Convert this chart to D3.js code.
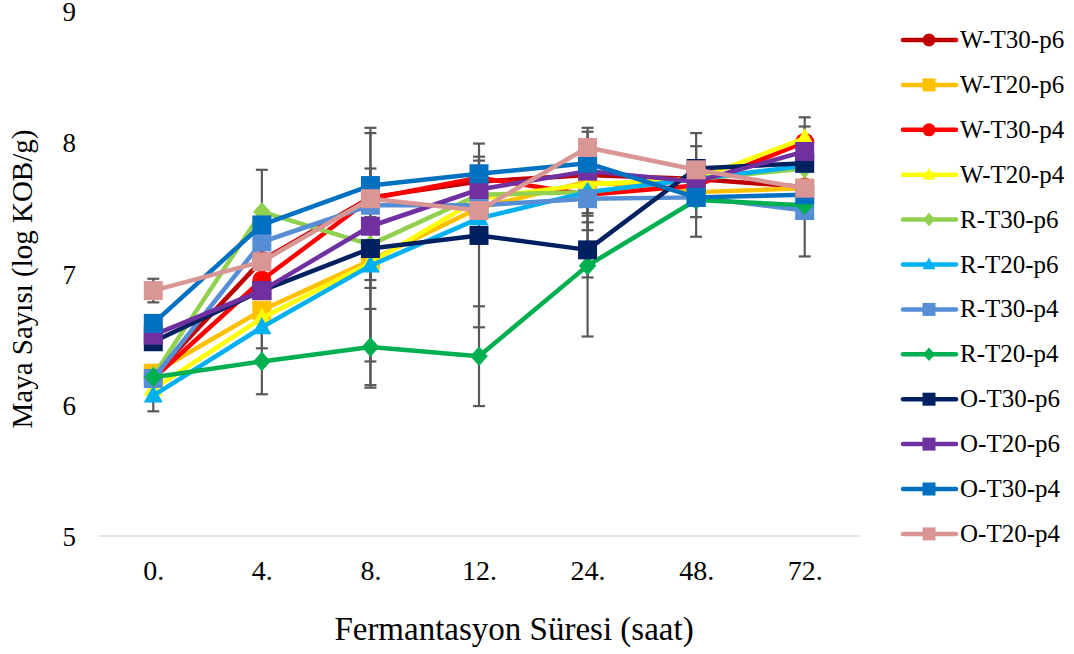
<!DOCTYPE html>
<html>
<head>
<meta charset="utf-8">
<script src="https://cdn.jsdelivr.net/npm/d3@7"></script>
<style>
  html, body { margin: 0; padding: 0; background: #ffffff; }
  svg { display: block; }
  svg text { font-family: "Liberation Serif", "Times New Roman", serif; }
</style>
</head>
<body>
<svg id="chart" width="1074" height="654"></svg>
<script>
// ---- data ----
const categories = ["0.", "4.", "8.", "12.", "24.", "48.", "72."];
const yTicks = [5, 6, 7, 8, 9];
const seriesNames = ["W-T30-p6", "W-T20-p6", "W-T30-p4", "W-T20-p4", "R-T30-p6", "R-T20-p6",
                     "R-T30-p4", "R-T20-p4", "O-T30-p6", "O-T20-p6", "O-T30-p4", "O-T20-p4"];

const wT30p6 = [6.22, 7.10, 7.58, 7.70, 7.75, 7.72, 7.66];
const wT20p6 = [6.24, 6.72, 7.10, 7.50, 7.70, 7.62, 7.65];
const wT30p4 = [6.20, 6.95, 7.57, 7.73, 7.60, 7.67, 8.00];
const wT20p4 = [6.12, 6.66, 7.08, 7.57, 7.68, 7.72, 8.03];
const rT30p6 = [6.22, 7.47, 7.22, 7.60, 7.62, 7.72, 7.80];
const rT20p6 = [6.07, 6.59, 7.06, 7.42, 7.62, 7.72, 7.82];
const rT30p4 = [6.20, 7.24, 7.52, 7.52, 7.57, 7.58, 7.48];
const rT20p4 = [6.21, 6.33, 6.44, 6.37, 7.06, 7.56, 7.52];
const oT30p6 = [6.48, 6.87, 7.19, 7.29, 7.18, 7.80, 7.84];
const oT20p6 = [6.53, 6.87, 7.36, 7.64, 7.78, 7.70, 7.93];
const oT30p4 = [6.62, 7.37, 7.67, 7.76, 7.84, 7.58, 7.60];
const oT20p4 = [6.87, 7.09, 7.57, 7.48, 7.96, 7.79, 7.65];

// error bar half-widths (0 = no visible error bar)
const errWT30p6 = [0, 0, 0, 0, 0, 0, 0];
const errWT20p6 = [0, 0, 0.97, 0, 0, 0, 0];
const errWT30p4 = [0, 0, 0, 0.16, 0, 0, 0.12];
const errWT20p4 = [0, 0, 0, 0, 0.22, 0, 0];
const errRT30p6 = [0, 0.32, 0.89, 0, 0, 0, 0];
const errRT20p6 = [0.12, 0.16, 0.17, 0, 0.29, 0, 0];
const errRT30p4 = [0, 0, 0, 0, 0.13, 0, 0.35];
const errRT20p4 = [0, 0.25, 0.29, 0.38, 0.54, 0.28, 0];
const errOT30p6 = [0, 0, 0.24, 0.70, 0.21, 0.27, 0];
const errOT20p6 = [0, 0, 0, 0, 0, 0.27, 0.26];
const errOT30p4 = [0, 0, 0.13, 0.10, 0.27, 0, 0];
const errOT20p4 = [0.09, 0.11, 0, 0, 0.12, 0, 0];

const seriesValues = [wT30p6, wT20p6, wT30p4, wT20p4, rT30p6, rT20p6, rT30p4, rT20p4, oT30p6, oT20p6, oT30p4, oT20p4];
const seriesErrors = [errWT30p6, errWT20p6, errWT30p4, errWT20p4, errRT30p6, errRT20p6, errRT30p4, errRT20p4, errOT30p6, errOT20p6, errOT30p4, errOT20p4];

// ---- styles ----
const FONT = "'Liberation Serif', 'Times New Roman', serif";
const colors = ["#C00000", "#FFC000", "#FF0000", "#FFFF00", "#92D050", "#00B0F0",
                "#558ED5", "#00B050", "#002060", "#7030A0", "#0070C0", "#D99694"];
const shapes = ["circle", "square", "circle", "triangle", "diamond", "triangle",
                "square", "diamond", "square", "square", "square", "square"];

const series = seriesNames.map((name, i) => ({
  name, color: colors[i], shape: shapes[i],
  points: categories.map((c, j) => ({ cat: c, v: seriesValues[i][j], e: seriesErrors[i][j] }))
}));

// ---- layout ----
const svg = d3.select("#chart");
const x = d3.scalePoint().domain(categories).range([99, 859]).padding(0.5);
const y = d3.scaleLinear().domain([5, 9]).range([536, 11]);

function markerPath(shape, s) {
  const h = s / 2;
  if (shape === "circle") {
    return d3.symbol().type(d3.symbolCircle).size(Math.PI * h * h)();
  }
  if (shape === "square") {
    return `M${-h},${-h}H${h}V${h}H${-h}Z`;
  }
  if (shape === "triangle") {
    const th = s * 0.9;
    return `M0,${-th * 0.6}L${h},${th * 0.4}L${-h},${th * 0.4}Z`;
  }
  if (shape === "diamond") {
    const w = s * 0.46, hh = s * 0.52;
    return `M0,${-hh}L${w},0L0,${hh}L${-w},0Z`;
  }
}

// baseline (value 5)
svg.append("line")
  .attr("x1", 99).attr("x2", 859)
  .attr("y1", y(5)).attr("y2", y(5))
  .attr("stroke", "#d9d9d9").attr("stroke-width", 1.3);

// y axis
const yAxis = svg.append("g")
  .attr("transform", "translate(76,1)")
  .call(d3.axisLeft(y).tickValues(yTicks).tickSize(0).tickPadding(0).tickFormat(d3.format("d")));
yAxis.attr("font-family", FONT);
yAxis.select(".domain").remove();
yAxis.selectAll("text").attr("font-size", 27).attr("fill", "#000").attr("font-family", FONT);

// x axis
const xAxis = svg.append("g")
  .attr("transform", `translate(0,${y(5)})`)
  .call(d3.axisBottom(x).tickSize(0).tickPadding(24));
xAxis.attr("font-family", FONT);
xAxis.select(".domain").remove();
xAxis.selectAll("text").attr("font-size", 28).attr("fill", "#000").attr("font-family", FONT);

// axis titles
svg.append("text")
  .attr("x", 514).attr("y", 640)
  .attr("text-anchor", "middle").attr("font-size", 33).attr("font-family", FONT).attr("fill", "#000")
  .text("Fermantasyon Süresi (saat)");
svg.append("text")
  .attr("transform", "translate(32,279) rotate(-90)")
  .attr("text-anchor", "middle").attr("font-size", 29).attr("font-family", FONT).attr("fill", "#000")
  .text("Maya Sayısı (log KOB/g)");

// error bars
const eb = svg.append("g").attr("stroke", "#595959").attr("stroke-width", 2.2);
series.forEach(s => {
  s.points.filter(p => p.e > 0).forEach(p => {
    const cx = x(p.cat);
    eb.append("line").attr("x1", cx).attr("x2", cx).attr("y1", y(p.v + p.e)).attr("y2", y(p.v - p.e));
    eb.append("line").attr("x1", cx - 6).attr("x2", cx + 6).attr("y1", y(p.v + p.e)).attr("y2", y(p.v + p.e));
    eb.append("line").attr("x1", cx - 6).attr("x2", cx + 6).attr("y1", y(p.v - p.e)).attr("y2", y(p.v - p.e));
  });
});

// series lines and markers
const line = d3.line().x(p => x(p.cat)).y(p => y(p.v));
series.forEach(s => {
  const g = svg.append("g");
  g.append("path").attr("d", line(s.points))
    .attr("fill", "none").attr("stroke", s.color).attr("stroke-width", 4.5)
    .attr("stroke-linejoin", "round").attr("stroke-linecap", "round");
  g.selectAll("path.m").data(s.points).join("path").attr("class", "m")
    .attr("transform", p => `translate(${x(p.cat)},${y(p.v)})`)
    .attr("d", markerPath(s.shape, 19))
    .attr("fill", s.color);
});

// legend
const legend = svg.append("g");
series.forEach((s, i) => {
  const cy = 40 + i * 44.9;
  const g = legend.append("g").attr("transform", `translate(0,${cy})`);
  g.append("line").attr("x1", 903).attr("x2", 956).attr("y1", 0).attr("y2", 0)
    .attr("stroke", s.color).attr("stroke-width", 4.5).attr("stroke-linecap", "round");
  g.append("path").attr("transform", "translate(929,0)").attr("d", markerPath(s.shape, 13)).attr("fill", s.color);
  g.append("text").attr("x", 960).attr("y", 8).attr("font-size", 25).attr("font-family", FONT)
    .attr("fill", "#000").text(s.name);
});
</script>
</body>
</html>
